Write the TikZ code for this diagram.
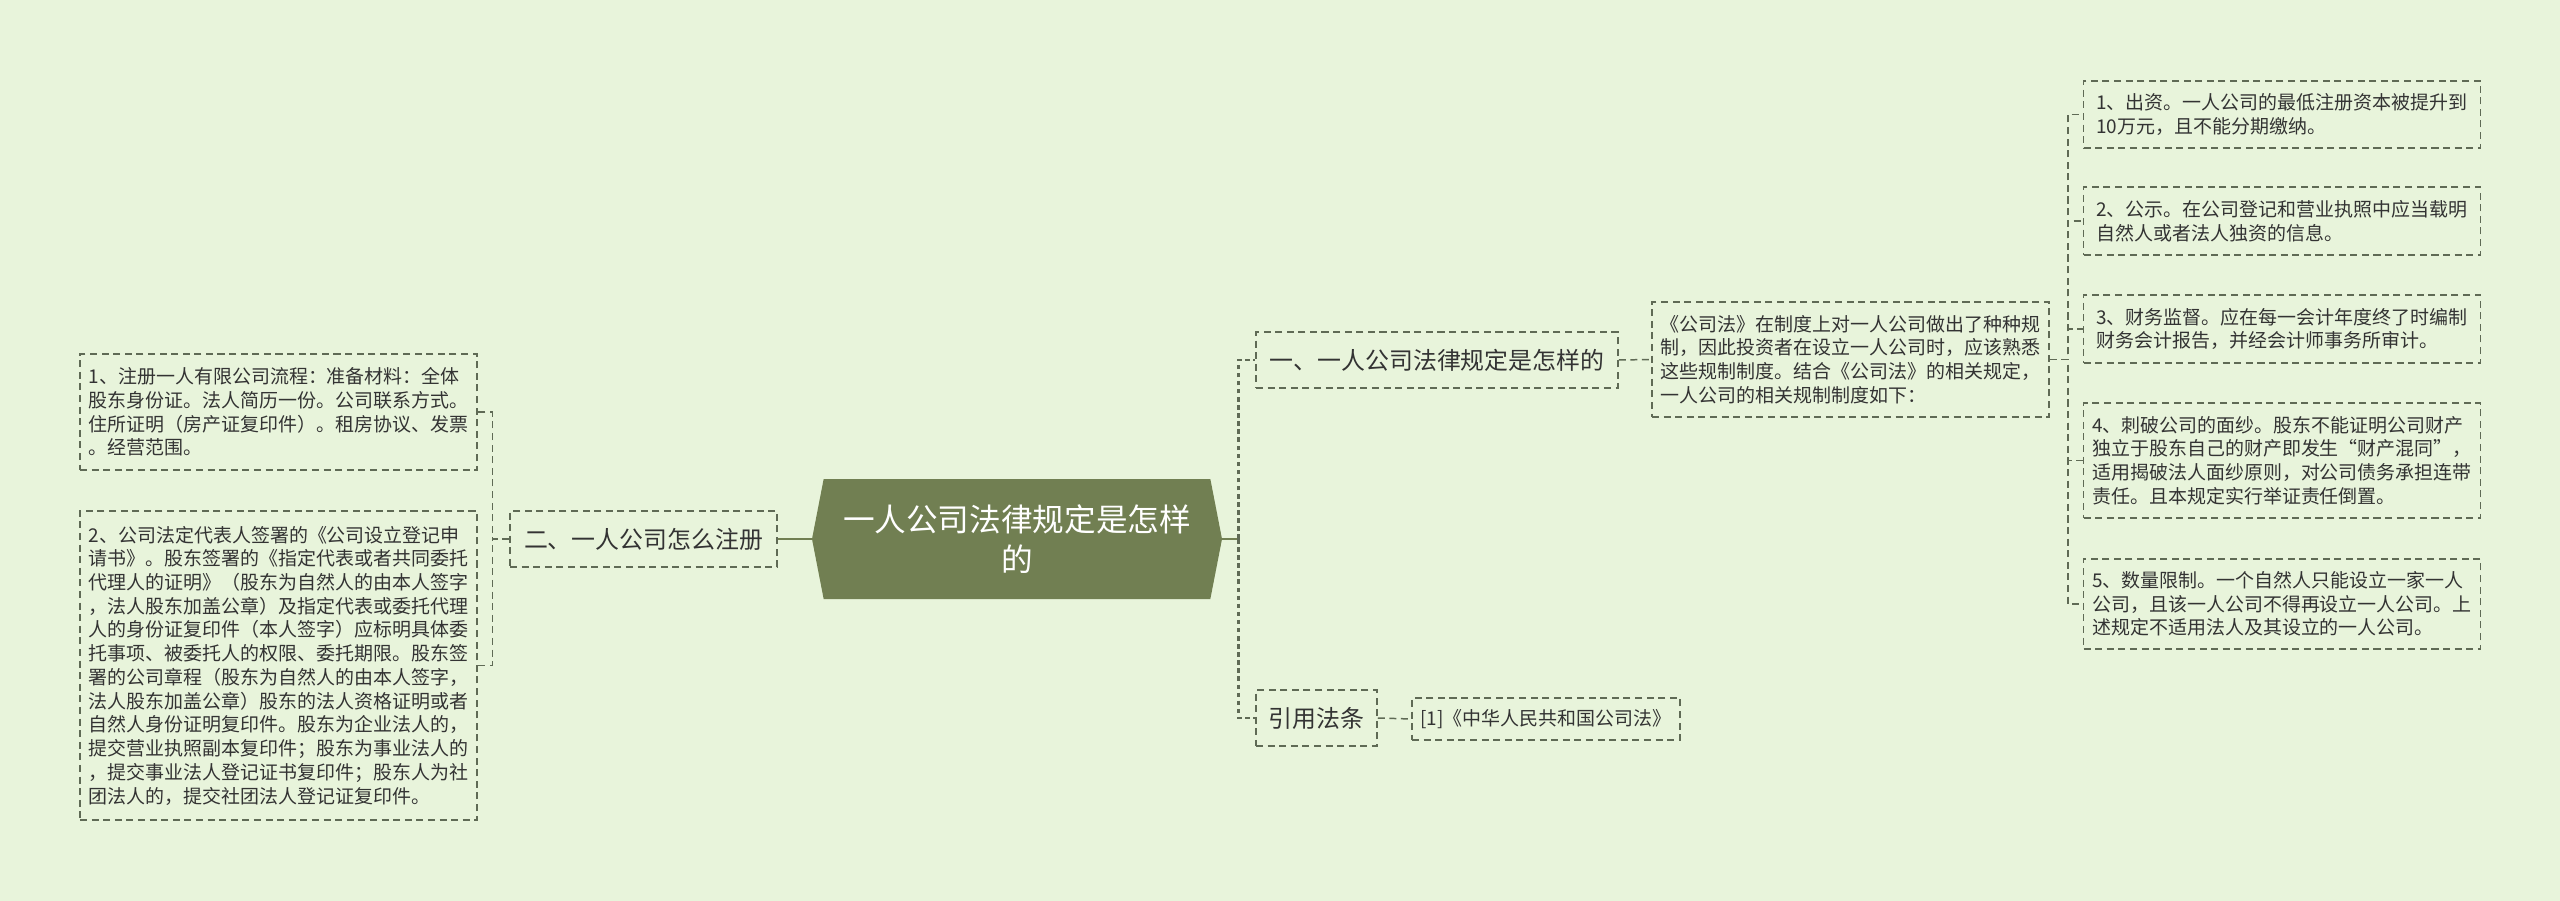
\documentclass[tikz,border=0pt]{standalone}
\usepackage{fontspec}
\setmainfont{Noto Sans CJK SC}
\usepackage{tikz}
\usetikzlibrary{shapes.symbols}
\definecolor{mapBack}{HTML}{E8F4DB}
\definecolor{mapRoot}{HTML}{717F52}
\definecolor{mapLine}{HTML}{5F6A55}
\definecolor{mapText}{HTML}{333333}

\begin{document}
\begin{tikzpicture}[
  root/.style={shape=signal, signal to=west and east, signal pointer angle=158, fill=mapRoot, text=white, minimum width=8.2cm, minimum height=2.4cm, align=center, inner sep=0pt, font=\fontsize{18pt}{22.7pt}\selectfont},
  topic/.style={draw=mapLine, line width=0.85pt, dash pattern=on 4pt off 2.6pt, text=mapText, minimum height=1.12cm, font=\fontsize{13.6pt}{16pt}\selectfont},
  leaf/.style={draw=mapLine, line width=0.85pt, dash pattern=on 4pt off 2.6pt, text=mapText, align=left, minimum width=7.94cm, font=\fontsize{10.8pt}{13.5pt}\selectfont},
  trunk/.style={draw=mapRoot, line width=1.7pt},
  link/.style={draw=mapLine, line width=0.85pt, dash pattern=on 4pt off 2.6pt},
  spine/.style={draw=mapLine, line width=1.4pt, dash pattern=on 2.6pt off 2pt}]
  \fill[mapBack] (0,0) rectangle (51.2,-18.02);
  \useasboundingbox (0,0) rectangle (51.2,-18.02);

  % centre
  \node[root] (root) at (20.34,-10.78) {一人公司法律规定是怎样\\的};

  % left branch
  \node[topic, minimum width=5.34cm] (reg) at (12.87,-10.78) {二、一人公司怎么注册};
  \node[leaf, minimum height=2.32cm] (reg1) at (5.57,-8.24) {1、注册一人有限公司流程：准备材料：全体\\股东身份证。法人简历一份。公司联系方式。\\住所证明（房产证复印件）。租房协议、发票\\。经营范围。};
  \node[leaf, minimum height=6.18cm] (reg2) at (5.57,-13.31) {2、公司法定代表人签署的《公司设立登记申\\请书》。股东签署的《指定代表或者共同委托\\代理人的证明》（股东为自然人的由本人签字\\，法人股东加盖公章）及指定代表或委托代理\\人的身份证复印件（本人签字）应标明具体委\\托事项、被委托人的权限、委托期限。股东签\\署的公司章程（股东为自然人的由本人签字，\\法人股东加盖公章）股东的法人资格证明或者\\自然人身份证明复印件。股东为企业法人的，\\提交营业执照副本复印件；股东为事业法人的\\，提交事业法人登记证书复印件；股东人为社\\团法人的，提交社团法人登记证复印件。};

  % right branch
  \node[topic, minimum width=7.24cm] (law) at (28.74,-7.2) {一、一人公司法律规定是怎样的};
  \node[leaf, minimum height=2.3cm] (intro) at (37.01,-7.19) {《公司法》在制度上对一人公司做出了种种规\\制，因此投资者在设立一人公司时，应该熟悉\\这些规制制度。结合《公司法》的相关规定，\\一人公司的相关规制制度如下：};
  \node[topic, minimum width=2.42cm] (ref) at (26.33,-14.36) {引用法条};
  \node[leaf, minimum width=5.36cm, minimum height=0.84cm] (cite) at (30.92,-14.38) {[1]《中华人民共和国公司法》};

  % rules
  \node[leaf, minimum height=1.34cm] (rule1) at (45.64,-2.29) {1、出资。一人公司的最低注册资本被提升到\\10万元，且不能分期缴纳。};
  \node[leaf, minimum height=1.36cm] (rule2) at (45.64,-4.42) {2、公示。在公司登记和营业执照中应当载明\\自然人或者法人独资的信息。};
  \node[leaf, minimum height=1.36cm] (rule3) at (45.64,-6.58) {3、财务监督。应在每一会计年度终了时编制\\财务会计报告，并经会计师事务所审计。};
  \node[leaf, minimum height=2.3cm] (rule4) at (45.64,-9.21) {4、刺破公司的面纱。股东不能证明公司财产\\独立于股东自己的财产即发生“财产混同”，\\适用揭破法人面纱原则，对公司债务承担连带\\责任。且本规定实行举证责任倒置。};
  \node[leaf, minimum height=1.8cm] (rule5) at (45.64,-12.08) {5、数量限制。一个自然人只能设立一家一人\\公司，且该一人公司不得再设立一人公司。上\\述规定不适用法人及其设立的一人公司。};

  % connectors
  \draw[trunk] (root.west) -- (reg.east);
  \draw[trunk] (root.east) -- ++(0.32,0) coordinate (fork);
  \draw[link] (reg.west) -- ++(-0.34,0) |- (reg1.east);
  \draw[link] (reg.west) -- ++(-0.34,0) |- (reg2.east);
  \draw[spine] (fork) |- (law.west);
  \draw[spine] (fork) |- (ref.west);
  \draw[link] (law.east) -- (intro.west);
  \draw[link] (ref.east) -- (cite.west);
  \foreach \r in {rule1,rule2,rule3,rule4,rule5}
    \draw[link] (intro.east) -- ++(0.36,0) |- (\r.west);
\end{tikzpicture}
\end{document}
